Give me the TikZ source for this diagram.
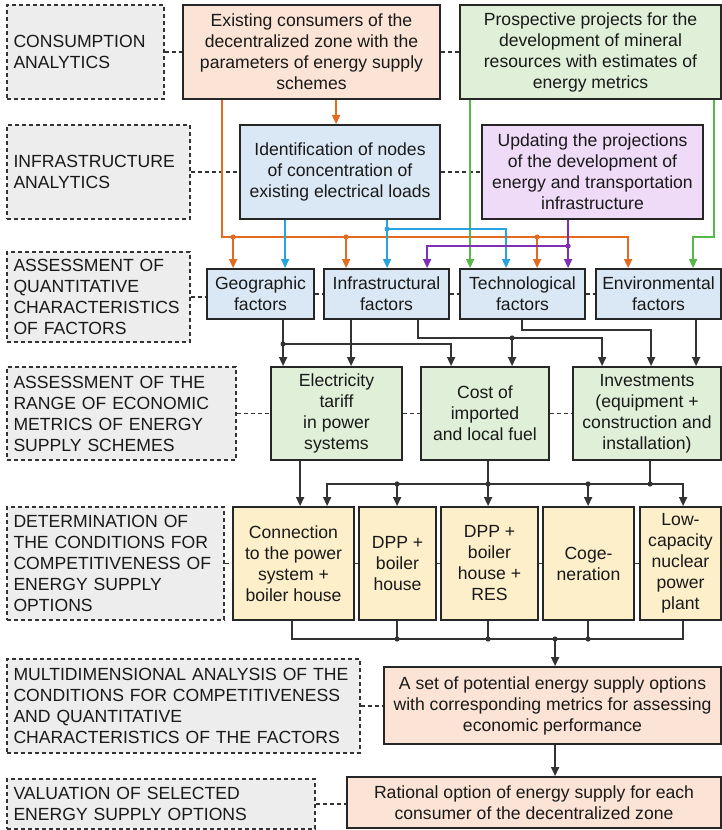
\documentclass[tikz,border=0pt]{standalone}
\usepackage{fontspec}
\setmainfont{Liberation Sans}
\usetikzlibrary{arrows.meta}

\definecolor{peach}{HTML}{FBE4D5}
\definecolor{mint}{HTML}{E0F0D8}
\definecolor{sky}{HTML}{DAE8F5}
\definecolor{lilac}{HTML}{EFDAF8}
\definecolor{cream}{HTML}{FDEFC9}
\definecolor{stone}{HTML}{EDEDED}
\definecolor{edge}{HTML}{262626}
\definecolor{oline}{HTML}{E36A1F}
\definecolor{bline}{HTML}{27A3DD}
\definecolor{pline}{HTML}{7F2FB5}
\definecolor{gline}{HTML}{55B848}
\definecolor{kline}{HTML}{333333}

\newcommand\figfont{\fontsize{17.6pt}{21pt}\selectfont}

\tikzset{
  solidbox/.style={draw=edge, line width=1.8pt, inner sep=0pt, align=center,
    font=\figfont, text=black!90},
  peachbox/.style={solidbox, fill=peach},
  mintbox/.style={solidbox, fill=mint},
  skybox/.style={solidbox, fill=sky},
  lilacbox/.style={solidbox, fill=lilac},
  creambox/.style={solidbox, fill=cream},
  labbox/.style={draw=kline, fill=stone, line width=1.3pt,
    dash pattern=on 4pt off 3pt, inner xsep=6.5pt, inner ysep=0pt,
    align=left, font=\figfont, text=black!90},
  wire/.style={line width=1.5pt},
  tip/.style={-{Triangle[length=9pt,width=8pt]}},
  linkdash/.style={draw=kline, line width=1.3pt, dash pattern=on 4pt off 3pt},
}

% box from its corners (x1,y1) to (x2,y2), y growing downwards
\newcommand\placebox[7]{%
  \node[#1, minimum width={(#5)-(#3)}, minimum height={(#6)-(#4)}]
    (#2) at ({((#3)+(#5))/2},{((#4)+(#6))/2}) {#7};}
% dashed stage label from its corners
\newcommand\stagebox[6]{%
  \pgfmathsetmacro\stw{(#4)-(#2)-13}%
  \node[labbox, text width=\stw pt, minimum width={(#4)-(#2)}, minimum height={(#5)-(#3)}]
    (#1) at ({((#2)+(#4))/2},{((#3)+(#5))/2}) {#6};}
\newcommand\jdot[2]{\fill[#1] #2 circle (2.6pt);}

\begin{document}
\begin{tikzpicture}[x=1pt,y=-1pt]
\useasboundingbox (0,0) rectangle (722,830);

% stage labels
\stagebox{l1}{7}{5}{164}{99}{CONSUMPTION\\ANALYTICS}
\stagebox{l2}{7}{125}{190}{219}{INFRASTRUCTURE\\ANALYTICS}
\stagebox{l3}{7}{252}{190}{342}{ASSESSMENT OF\\QUANTITATIVE\\CHARACTERISTICS\\OF FACTORS}
\stagebox{l4}{7}{367}{236}{460}{ASSESSMENT OF THE\\RANGE OF ECONOMIC\\METRICS OF ENERGY\\SUPPLY SCHEMES}
\stagebox{l5}{7}{507}{224}{620}{DETERMINATION OF\\THE CONDITIONS FOR\\COMPETITIVENESS OF\\ENERGY SUPPLY\\OPTIONS}
\stagebox{l6}{7}{659}{360}{753}{MULTIDIMENSIONAL ANALYSIS OF THE\\CONDITIONS FOR COMPETITIVENESS\\AND QUANTITATIVE\\CHARACTERISTICS OF THE FACTORS}
\stagebox{l7}{7}{779}{315}{829}{VALUATION OF SELECTED\\ENERGY SUPPLY OPTIONS}

% inputs
\placebox{peachbox}{cons}{183}{5}{440}{99}{Existing consumers of the\\decentralized zone with the\\parameters of energy supply\\schemes}
\placebox{mintbox}{proj}{460}{5}{721}{99}{Prospective projects for the\\development of mineral\\resources with estimates of\\energy metrics}
\placebox{skybox}{loads}{240}{125}{440}{219}{Identification of nodes\\of concentration of\\existing electrical loads}
\placebox{lilacbox}{upd}{482}{125}{703}{219}{Updating the projections\\of the development of\\energy and transportation\\infrastructure}

% factors
\placebox{skybox}{geo}{207}{269}{314}{319}{Geographic\\factors}
\placebox{skybox}{infra}{324}{269}{449}{319}{Infrastructural\\factors}
\placebox{skybox}{tech}{460}{269}{585}{319}{Technological\\factors}
\placebox{skybox}{env}{596}{269}{721}{319}{Environmental\\factors}

% economic metrics
\placebox{mintbox}{elec}{271}{367}{402}{460}{Electricity\\tariff\\in power\\systems}
\placebox{mintbox}{cost}{421}{367}{549}{460}{Cost of\\imported\\and local fuel}
\placebox{mintbox}{inv}{573}{367}{721}{460}{Investments\\(equipment +\\construction and\\installation)}

% supply options
\placebox{creambox}{conn}{233}{507}{354}{620}{Connection\\to the power\\system +\\boiler house}
\placebox{creambox}{dpp}{359}{507}{436}{620}{DPP +\\boiler\\house}
\placebox{creambox}{res}{441}{507}{538}{620}{DPP +\\boiler\\house +\\RES}
\placebox{creambox}{cog}{543}{507}{634}{620}{Coge-\\neration}
\placebox{creambox}{low}{640}{507}{721}{620}{Low-\\capacity\\nuclear\\power\\plant}

% results
\placebox{peachbox}{set}{384}{667}{721}{744}{A set of potential energy supply options\\with corresponding metrics for assessing\\economic performance}
\placebox{peachbox}{rat}{347}{777}{721}{828}{Rational option of energy supply for each\\consumer of the decentralized zone}

% dashed links between each stage label and its row
\draw[linkdash] (l1.east) -- (l1.east -| cons.west);
\draw[linkdash] (cons.east) -- (proj.west);
\draw[linkdash] (l2.east) -- (l2.east -| loads.west);
\draw[linkdash] (loads.east) -- (upd.west);
\draw[linkdash] (l3.east) -- (l3.east -| geo.west);
\draw[linkdash] (geo.east) -- (infra.west);
\draw[linkdash] (infra.east) -- (tech.west);
\draw[linkdash] (tech.east) -- (env.west);
\draw[linkdash] (l4.east) -- (l4.east -| elec.west);
\draw[linkdash] (elec.east) -- (cost.west);
\draw[linkdash] (cost.east) -- (inv.west);
\draw[linkdash] (l5.east) -- (l5.east -| conn.west);
\draw[linkdash] (conn.east) -- (dpp.west);
\draw[linkdash] (dpp.east) -- (res.west);
\draw[linkdash] (res.east) -- (cog.west);
\draw[linkdash] (cog.east) -- (low.west);
\draw[linkdash] (l6.east) -- (l6.east -| set.west);
\draw[linkdash] (l7.east) -- (l7.east -| rat.west);

% bus levels
\coordinate (yO) at (0,237);
\coordinate (yB) at (0,229);
\coordinate (yP) at (0,246);
\coordinate (yK1) at (0,344);
\coordinate (yK2) at (0,338);
\coordinate (yK3) at (0,330);
\coordinate (yM) at (0,484);
\coordinate (yN) at (0,639);

% consumers (orange)
\draw[wire,oline,tip] ([xshift=154pt]cons.south west) coordinate (oA) -- (oA |- loads.north);
\draw[wire,oline,tip] ([xshift=40pt]cons.south west) coordinate (oB) -- (oB |- yO) -| ([xshift=33pt]env.north west);
\path ([xshift=27pt]geo.north west) coordinate (oG)
      ([xshift=23pt]infra.north west) coordinate (oI)
      ([xshift=78pt]tech.north west) coordinate (oT);
\foreach \c in {oG,oI,oT}{
  \draw[wire,oline,tip] (\c |- yO) -- (\c);
  \jdot{oline}{(\c |- yO)}
}

% green inputs
\draw[wire,gline,tip] ([xshift=11pt]proj.south west) coordinate (gA) -- (gA |- tech.north);
\draw[wire,gline,tip] ([xshift=255pt]proj.south west) coordinate (gB) -- (gB |- yO) -| ([xshift=98pt]env.north west);

% load nodes (blue)
\draw[wire,bline,tip] ([xshift=46pt]loads.south west) coordinate (bA) -- (bA |- geo.north);
\draw[wire,bline,tip] ([xshift=148pt]loads.south west) coordinate (bB) -- (bB |- infra.north);
\draw[wire,bline,tip] (bB |- yB) -| ([xshift=47pt]tech.north west);
\jdot{bline}{(bB |- yB)}

% projections (purple)
\draw[wire,pline,tip] ([xshift=87pt]upd.south west) coordinate (pA) -- (pA |- tech.north);
\draw[wire,pline,tip] (pA |- yP) -| ([xshift=104pt]infra.north west);
\jdot{pline}{(pA |- yP)}

% factors to metrics
\draw[wire,kline,tip] ([xshift=77pt]geo.south west) coordinate (kA) -- (kA |- elec.north);
\draw[wire,kline,tip] (kA |- yK1) -| ([xshift=31pt]cost.north west);
\jdot{kline}{(kA |- yK1)}
\draw[wire,kline,tip] ([xshift=28pt]infra.south west) coordinate (kB) -- (kB |- elec.north);
\draw[wire,kline,tip] ([xshift=95pt]infra.south west) coordinate (kC) -- (kC |- yK2) -| ([xshift=30pt]inv.north west);
\path ([xshift=92pt]cost.north west) coordinate (kD);
\draw[wire,kline,tip] (kD |- yK2) -- (kD);
\jdot{kline}{(kD |- yK2)}
\draw[wire,kline,tip] ([xshift=63pt]tech.south west) coordinate (kE) -- (kE |- yK3) -| ([xshift=79pt]inv.north west);
\draw[wire,kline,tip] ([xshift=101pt]env.south west) coordinate (kF) -- (kF |- inv.north);

% metrics to options
\draw[wire,kline,tip] ([xshift=30pt]elec.south west) coordinate (mA) -- (mA |- conn.north);
\draw[wire,kline,tip] ([xshift=68pt]cost.south west) coordinate (mB) -- (mB |- res.north);
\draw[wire,kline] ([xshift=78pt]inv.south west) coordinate (mC) -- (mC |- yM);
\path ([xshift=95pt]conn.north west) coordinate (cT)
      ([xshift=44pt]low.north west) coordinate (lT)
      ([xshift=39pt]dpp.north west) coordinate (dT)
      ([xshift=46pt]cog.north west) coordinate (gT);
\draw[wire,kline,{Triangle[length=9pt,width=8pt]}-{Triangle[length=9pt,width=8pt]}]
  (cT) -- (cT |- yM) -- (lT |- yM) -- (lT);
\draw[wire,kline,tip] (dT |- yM) -- (dT);
\draw[wire,kline,tip] (gT |- yM) -- (gT);
\foreach \c in {dT,mB,gT,mC}{\jdot{kline}{(\c |- yM)}}

% options to the set of options
\path ([xshift=60pt]conn.south west) coordinate (cB)
      ([xshift=44pt]low.south west) coordinate (lB)
      ([xshift=39pt]dpp.south west) coordinate (dB)
      ([xshift=48pt]res.south west) coordinate (rB)
      ([xshift=46pt]cog.south west) coordinate (gC)
      ([xshift=172pt]set.north west) coordinate (sT)
      ([xshift=172pt]set.south west) coordinate (sB);
\draw[wire,kline] (cB) -- (cB |- yN) -- (lB |- yN) -- (lB);
\foreach \c in {dB,rB,gC}{
  \draw[wire,kline] (\c) -- (\c |- yN);
  \jdot{kline}{(\c |- yN)}
}
\draw[wire,kline,tip] (sT |- yN) -- (sT);
\jdot{kline}{(sT |- yN)}
\draw[wire,kline,tip] (sB) -- (sB |- rat.north);
\end{tikzpicture}
\end{document}
